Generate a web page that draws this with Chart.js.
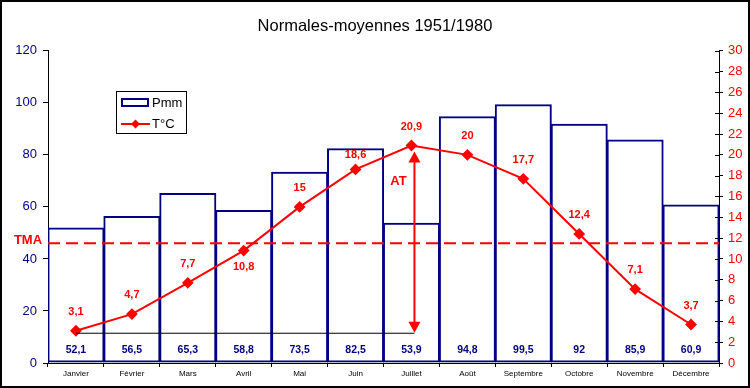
<!DOCTYPE html>
<html>
<head>
<meta charset="utf-8">
<script src="https://cdn.jsdelivr.net/npm/chart.js@4"></script>
<style>
  html, body { margin:0; padding:0; background:#fff; }
</style>
</head>
<body>
<canvas id="chart" width="750" height="388"></canvas>
<script>
// data
const months = ['Janvier','Février','Mars','Avril','Mai','Juin','Juillet','Août','Septembre','Octobre','Novembre','Décembre'];
const pmm = [52.1, 56.5, 65.3, 58.8, 73.5, 82.5, 53.9, 94.8, 99.5, 92, 85.9, 60.9];
const temp = [3.1, 4.7, 7.7, 10.8, 15, 18.6, 20.9, 20, 17.7, 12.4, 7.1, 3.7];
const tma = 11.5;
const pmmAxis = [0, 120, 20];   // min, max, step
const tempAxis = [0, 30, 2];

const NAVY = '#000080';
const RED = '#ff0000';
const FONT = 'Arial, "Liberation Sans", sans-serif';

Chart.defaults.font.family = FONT;

function fr(v){ return String(v).replace('.', ','); }

const decor = {
  id: 'decor',
  beforeDraw(c){
    const ctx = c.ctx;
    ctx.save();
    ctx.fillStyle = '#fff';
    ctx.fillRect(0, 0, c.width, c.height);
    ctx.restore();
  },
  afterDatasetsDraw(c, args, opts){
    const ctx = c.ctx, area = c.chartArea;
    const yR = c.scales.y1;
    const pts = c.getDatasetMeta(1).data;
    const bars = c.getDatasetMeta(0).data;
    ctx.save();

    // right axis ticks cross the axis line
    ctx.strokeStyle = '#000';
    ctx.lineWidth = 1;
    yR.ticks.forEach(t => {
      const y = Math.round(yR.getPixelForValue(t.value)) + 0.5;
      ctx.beginPath();
      ctx.moveTo(area.right - 4, y);
      ctx.lineTo(area.right, y);
      ctx.stroke();
    });

    // TMA dashed line
    const yt = yR.getPixelForValue(tma);
    ctx.strokeStyle = RED;
    ctx.lineWidth = 2;
    ctx.setLineDash([12, 6]);
    ctx.beginPath();
    ctx.moveTo(area.left, yt);
    ctx.lineTo(area.right, yt);
    ctx.stroke();
    ctx.setLineDash([]);
    ctx.fillStyle = RED;
    ctx.font = 'bold 13px ' + FONT;
    ctx.textAlign = 'center';
    ctx.textBaseline = 'middle';
    ctx.fillText('TMA', 28, yt - 3);

    // amplitude: min -> max
    const iMin = temp.indexOf(Math.min(...temp));
    const iMax = temp.indexOf(Math.max(...temp));
    const ax = pts[iMax].x + 3;
    const yMin = pts[iMin].y + 2;
    const top = pts[iMax].y + 6;
    ctx.strokeStyle = '#000';
    ctx.lineWidth = 1;
    ctx.beginPath();
    ctx.moveTo(pts[iMin].x, yMin + 0.5);
    ctx.lineTo(ax, yMin + 0.5);
    ctx.stroke();

    ctx.strokeStyle = RED;
    ctx.lineWidth = 2;
    ctx.beginPath();
    ctx.moveTo(ax, top + 8);
    ctx.lineTo(ax, yMin - 8);
    ctx.stroke();
    ctx.beginPath();
    ctx.moveTo(ax, top); ctx.lineTo(ax - 6, top + 11); ctx.lineTo(ax + 6, top + 11); ctx.closePath();
    ctx.fill();
    ctx.beginPath();
    ctx.moveTo(ax, yMin); ctx.lineTo(ax - 6, yMin - 11); ctx.lineTo(ax + 6, yMin - 11); ctx.closePath();
    ctx.fill();
    ctx.fillText('AT', ax - 16, top + 30);

    // temperature labels
    ctx.font = 'bold 11px ' + FONT;
    pts.forEach((p, i) => {
      const dy = i in opts.offsets ? opts.offsets[i] : -19;
      ctx.fillText(fr(temp[i]), p.x, p.y + dy);
    });

    // rainfall labels
    ctx.fillStyle = NAVY;
    ctx.font = 'bold 10.5px ' + FONT;
    bars.forEach((b, i) => {
      ctx.fillText(fr(pmm[i]), b.x, area.bottom - 13);
    });

    // legend
    ctx.strokeStyle = '#000';
    ctx.lineWidth = 1;
    ctx.strokeRect(116.5, 91.5, 70, 42);
    ctx.strokeStyle = NAVY;
    ctx.lineWidth = 2;
    ctx.strokeRect(122, 99, 26, 7);
    ctx.strokeStyle = RED;
    ctx.beginPath();
    ctx.moveTo(121, 124); ctx.lineTo(150, 124);
    ctx.stroke();
    ctx.fillStyle = RED;
    ctx.beginPath();
    ctx.moveTo(135.5, 119.5); ctx.lineTo(140, 124); ctx.lineTo(135.5, 128.5); ctx.lineTo(131, 124); ctx.closePath();
    ctx.fill();
    ctx.fillStyle = '#000';
    ctx.font = '13px ' + FONT;
    ctx.textAlign = 'left';
    ctx.fillText('Pmm', 152, 103);
    ctx.fillText('T°C', 152, 124);

    // frame
    ctx.strokeStyle = '#000';
    ctx.lineWidth = 2;
    ctx.strokeRect(1, 1, c.width - 2, c.height - 2);
    ctx.restore();
  }
};

new Chart(document.getElementById('chart'), {
  type: 'bar',
  data: {
    labels: months,
    datasets: [{
      type: 'bar',
      label: 'Pmm',
      data: pmm,
      yAxisID: 'y',
      order: 2,
      backgroundColor: 'rgba(255,255,255,0)',
      borderColor: NAVY,
      borderWidth: 2,
      borderSkipped: false,
      barPercentage: 1.02,
      categoryPercentage: 1
    }, {
      type: 'line',
      label: 'T°C',
      data: temp,
      yAxisID: 'y1',
      order: 1,
      borderColor: RED,
      borderWidth: 2,
      pointStyle: 'rectRot',
      pointRadius: 4.5,
      pointBackgroundColor: RED,
      pointBorderColor: RED,
      tension: 0
    }]
  },
  options: {
    responsive: false,
    animation: false,
    layout: { padding: 0 },
    plugins: {
      legend: { display: false },
      tooltip: { enabled: false },
      title: {
        display: true,
        text: 'Normales-moyennes 1951/1980',
        color: '#000',
        font: { size: 16.5, weight: 'normal' },
        padding: { top: 17, bottom: 14 }
      },
      decor: { offsets: { 3: 16, 5: -14 } }
    },
    scales: {
      x: {
        afterFit(s){ s.height = 25; },
        grid: { offset: true, drawOnChartArea: false, tickLength: 4, color: '#000' },
        border: { color: '#000' },
        ticks: { color: '#000', font: { size: 8 }, padding: 2, maxRotation: 0, autoSkip: false }
      },
      y: {
        position: 'left',
        min: pmmAxis[0], max: pmmAxis[1],
        afterFit(s){ s.width = 48; },
        grid: { drawOnChartArea: false, tickLength: 5, color: '#000' },
        border: { color: '#000' },
        ticks: { stepSize: pmmAxis[2], color: NAVY, font: { size: 13 }, padding: 6 }
      },
      y1: {
        position: 'right',
        min: tempAxis[0], max: tempAxis[1],
        afterFit(s){ s.width = 31; },
        grid: { drawOnChartArea: false, tickLength: 4, color: '#000' },
        border: { color: '#000' },
        ticks: { stepSize: tempAxis[2], color: RED, font: { size: 13 }, padding: 5 }
      }
    }
  },
  plugins: [decor]
});
</script>
</body>
</html>
